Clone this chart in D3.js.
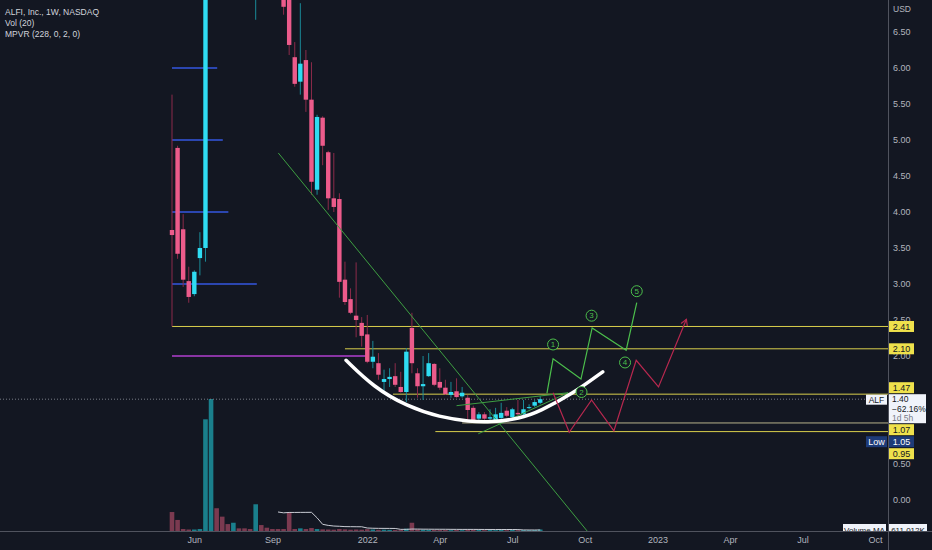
<!DOCTYPE html>
<html>
<head>
<meta charset="utf-8">
<script src="https://cdn.jsdelivr.net/npm/d3@7"></script>
<style>
  body { margin: 0; background: #131722; }
  svg { display: block; }
  text { font-family: "Liberation Sans", Arial, sans-serif; }
</style>
</head>
<body>
<script>
// weekly bars, first bar = week of 2021-05-03
const firstWeek = '2021-05-03';
const opens  = [3.75,4.89,3.76,3.04,2.86,3.36,3.50,10.8,14.5,12.0,10.3,9.1,9.9,9.0,8.4,7.6,8.9,8.3,7.9,7.6,
                7.4,7.0,6.15,5.81,6.11,5.56,4.31,5.31,4.83,4.19,4.18,3.06,2.79,2.56,2.46,2.30,1.92,1.90,1.64,1.68,
                1.72,1.57,1.50,2.39,1.76,1.58,1.72,1.89,1.64,1.56,1.46,1.51,1.44,1.42,1.28,1.13,1.19,1.13,1.11,1.14,
                1.24,1.15,1.21,1.19,1.28,1.31,1.35];
const highs  = [5.63,4.92,3.97,3.24,3.19,3.72,12.0,19.9,15.2,12.8,10.9,11.5,10.2,9.3,8.6,10.5,9.4,8.6,8.1,7.8,
                7.5,7.2,6.36,6.90,6.25,6.08,5.35,5.33,4.85,4.82,4.26,3.31,2.94,3.30,2.54,2.57,2.21,2.04,1.81,1.83,
                1.90,1.78,2.11,2.60,1.83,2.00,2.04,1.90,1.83,1.67,1.64,1.69,1.57,1.46,1.31,1.22,1.22,1.26,1.28,1.35,
                1.29,1.28,1.39,1.39,1.33,1.39,1.44];
const lows   = [2.41,3.35,2.96,2.74,2.83,3.12,3.31,9.6,11.0,9.8,8.6,8.7,8.6,8.0,7.3,6.67,7.9,7.6,7.3,7.1,
                6.74,6.18,5.74,5.63,5.39,4.24,4.24,4.65,4.03,4.00,2.81,2.71,2.58,2.26,2.13,1.90,1.83,1.67,1.49,1.57,
                1.57,1.49,1.36,1.76,1.42,1.39,1.71,1.58,1.53,1.46,1.42,1.42,1.42,1.08,1.07,1.10,1.11,1.08,1.08,1.12,
                1.15,1.14,1.18,1.18,1.26,1.29,1.33];
const closes = [3.68,3.42,3.06,2.82,3.17,3.50,10.8,14.6,12.1,10.3,9.1,9.9,9.0,8.4,7.6,8.9,8.3,7.9,7.6,7.4,
                6.85,6.32,5.78,6.06,5.56,4.42,5.32,4.92,4.19,4.07,3.03,2.75,2.60,2.50,2.28,1.92,1.99,1.74,1.68,1.71,
                1.60,1.50,2.06,1.90,1.58,1.61,1.90,1.60,1.56,1.47,1.50,1.43,1.49,1.25,1.10,1.19,1.13,1.15,1.19,1.21,
                1.17,1.26,1.19,1.26,1.29,1.36,1.40];
// volume, millions of shares
const volumes = [11.5,6.7,1.2,0.9,0.9,1.2,67.7,80.0,13.8,8.7,4.2,5.0,1.6,1.6,1.2,16.2,3.6,2.0,1.2,1.2,
                 1.2,11.5,1.2,1.6,1.2,1.8,1.2,1.0,0.9,0.8,1.2,1.0,0.8,0.9,0.8,1.1,0.9,0.7,0.8,0.7,
                 0.6,0.7,1.4,5.0,1.0,0.8,0.7,0.6,0.6,0.6,0.5,0.6,0.5,0.9,0.8,0.6,0.5,0.6,0.5,0.7,
                 0.5,0.6,0.5,0.6,0.5,0.6,0.9];
const volMaLength = 20;

// drawings, as [week index, price]
const yellowLevels = [2.41, 2.10, 1.47, 1.07, 0.95];
const yellowFrom   = [0, 31, 39.6, 52, 47.2];
const mpvrLevels = [6, 5, 4, 3];
const mpvrTo     = [8.1, 9.1, 10.1, 15.2];
const pivotLevel = 2.0, pivotTo = 34.8;
const trendLine  = [[19.05, 4.82], [74.4, -0.43]];
const wedgeUpper = [[51, 1.31], [71, 1.49]];
const wedgeLower = [[54.9, 0.92], [71, 1.49]];
const bowl = [[31.2,1.94],[36.1,1.57],[42.1,1.30],[48.0,1.15],[53.4,1.09],[57.0,1.08],[62.4,1.13],[65.9,1.23],[71.9,1.48],[77.2,1.78]];
const bullPath = [[67.2,1.48],[68.3,1.96],[73.3,1.68],[75.3,2.39],[81.4,2.08],[83.3,2.74]];
const bullLabels = [[68.3,2.16,'1'],[73.4,1.50,'2'],[75.2,2.56,'3'],[81.2,1.91,'4'],[83.3,2.90,'5']];
const bearPath = [[68.3,1.49],[71.2,0.94],[75.2,1.39],[79.2,0.96],[83.2,1.94],[87.2,1.57],[92.2,2.51]];

const priceTicks = [0,0.5,1,1.5,2,2.5,3,3.5,4,4.5,5,5.5,6,6.5];
const timeTicks  = ['2021-05-31','2021-09-06','2022-01-03','2022-04-04','2022-07-04','2022-10-03','2023-01-02','2023-04-03','2023-07-03','2023-10-02'];
const timeLabels = ['Jun','Sep','2022','Apr','Jul','Oct','2023','Apr','Jul','Oct'];

const lastPrice = 1.40, lastChange = '−62.16%', countdown = '1d 5h', lowPrice = 1.05;
const volMaText = '611.012K';

const W = 932, H = 550;
const paneR = 888, paneB = 531;
const upBody = '#2fdcf2', upWick = '#1a8a98', dnBody = '#ec5b8b', dnWick = '#8c2b4a';
const axisCol = '#b2b5be';

const svg = d3.select('body').append('svg').attr('width', W).attr('height', H);
svg.append('rect').attr('width', W).attr('height', H).attr('fill', '#131722');

const t0 = Date.parse(firstWeek + 'T00:00:00Z');
const wk = i => new Date(t0 + i * 7 * 864e5);

const x = d3.scaleUtc().domain([wk(0), wk(126)]).range([172, 875]);
const y = d3.scaleLinear().domain([0, 6.5]).range([500, 32]);
const yv = d3.scaleLinear().domain([0, 80]).range([paneB, 399]);

const defs = svg.append('defs');
defs.append('clipPath').attr('id', 'pane').append('rect').attr('width', paneR).attr('height', paneB);
defs.append('marker').attr('id', 'arr').attr('viewBox', '0 0 10 10').attr('refX', 8).attr('refY', 5)
  .attr('markerWidth', 7).attr('markerHeight', 7).attr('orient', 'auto-start-reverse')
  .append('path').attr('d', 'M1,1 L8,5 L1,9').attr('fill', 'none').attr('stroke', '#b8284f').attr('stroke-width', 1.4);

const pane = svg.append('g').attr('clip-path', 'url(#pane)');

const bars = opens.map((o, i) => ({
  t: wk(i), o, h: highs[i], l: lows[i], c: closes[i], v: volumes[i], up: closes[i] >= o
}));

// volume + MA
pane.append('g').selectAll('rect').data(bars).join('rect')
  .attr('x', d => x(d.t) - 2.3).attr('width', 4.6)
  .attr('y', d => yv(d.v)).attr('height', d => paneB - yv(d.v))
  .attr('fill', d => d.up ? '#1a7f8c' : '#7b3a50');

const volMa = bars.map((d, i) => i < volMaLength - 1 ? null
  : { t: d.t, v: d3.mean(volumes.slice(i - volMaLength + 1, i + 1)) }).filter(d => d);
pane.append('path').datum(volMa)
  .attr('d', d3.line().x(d => x(d.t)).y(d => yv(d.v)))
  .attr('fill', 'none').attr('stroke', '#c9ccd4').attr('stroke-width', 1);

// last price dotted line
pane.append('line').attr('x1', 0).attr('x2', paneR).attr('y1', y(lastPrice)).attr('y2', y(lastPrice))
  .attr('stroke', '#787b86').attr('stroke-dasharray', '1 2').attr('stroke-width', 1);

// horizontal rays
pane.append('g').selectAll('line').data(yellowLevels).join('line')
  .attr('x1', (d, i) => x(wk(yellowFrom[i]))).attr('x2', paneR)
  .attr('y1', d => y(d)).attr('y2', d => y(d))
  .attr('stroke', d => d === 1.07 ? '#b7b28a' : '#d9cf4c').attr('stroke-width', 1);

pane.append('g').selectAll('line').data(mpvrLevels).join('line')
  .attr('x1', x(wk(0))).attr('x2', (d, i) => x(wk(mpvrTo[i])))
  .attr('y1', d => y(d)).attr('y2', d => y(d))
  .attr('stroke', '#3557e0').attr('stroke-width', 1.4);

pane.append('line').attr('x1', x(wk(0))).attr('x2', x(wk(pivotTo)))
  .attr('y1', y(pivotLevel)).attr('y2', y(pivotLevel))
  .attr('stroke', '#b23fcf').attr('stroke-width', 1.4);

const pline = d3.line().x(d => x(wk(d[0]))).y(d => y(d[1]));

// candles
const cg = pane.append('g').selectAll('g').data(bars).join('g');
cg.append('line')
  .attr('x1', d => x(d.t)).attr('x2', d => x(d.t))
  .attr('y1', d => y(d.h)).attr('y2', d => y(d.l))
  .attr('stroke', d => d.up ? upWick : dnWick).attr('stroke-width', 1);
cg.append('rect')
  .attr('x', d => x(d.t) - 2.2).attr('width', 4.4)
  .attr('y', d => y(Math.max(d.o, d.c)))
  .attr('height', d => Math.max(1, Math.abs(y(d.o) - y(d.c))))
  .attr('fill', d => d.up ? upBody : dnBody);

// trend lines
[trendLine, wedgeUpper, wedgeLower].forEach(l => {
  pane.append('path').attr('d', pline(l)).attr('fill', 'none')
    .attr('stroke', '#3e9f42').attr('stroke-width', 1);
});

// bowl
pane.append('path').attr('d', pline.curve(d3.curveBasis)(bowl))
  .attr('fill', 'none').attr('stroke', '#ffffff').attr('stroke-width', 3.5).attr('stroke-linecap', 'round');
pline.curve(d3.curveLinear);

// projections
pane.append('path').attr('d', pline(bearPath)).attr('fill', 'none')
  .attr('stroke', '#b8284f').attr('stroke-width', 1.2).attr('marker-end', 'url(#arr)');
pane.append('path').attr('d', pline(bullPath)).attr('fill', 'none')
  .attr('stroke', '#4cbf4c').attr('stroke-width', 1.2);
const lab = pane.append('g').selectAll('g').data(bullLabels).join('g')
  .attr('transform', d => `translate(${x(wk(d[0]))},${y(d[1])})`);
lab.append('circle').attr('r', 5.5).attr('fill', '#131722').attr('stroke', '#4cbf4c').attr('stroke-width', 1);
lab.append('text').text(d => d[2]).attr('text-anchor', 'middle').attr('dy', '0.35em')
  .attr('font-size', 8).attr('fill', '#4cbf4c');

// volume MA labels (half hidden under the time axis)
const bottomClip = defs.append('clipPath').attr('id', 'bclip');
bottomClip.append('rect').attr('width', W).attr('height', paneB);
const vl = svg.append('g').attr('clip-path', 'url(#bclip)');
const vmaY = yv(volMa[volMa.length - 1].v);
vl.append('rect').attr('x', 843).attr('y', vmaY - 6).attr('width', 43).attr('height', 12).attr('fill', '#f0f3fa');
vl.append('text').attr('x', 864.5).attr('y', vmaY).attr('dy', '0.35em').attr('text-anchor', 'middle')
  .attr('font-size', 8).attr('fill', '#131722').text('Volume MA');
vl.append('rect').attr('x', 889).attr('y', vmaY - 6).attr('width', 38).attr('height', 12).attr('fill', '#f0f3fa');
vl.append('text').attr('x', 908).attr('y', vmaY).attr('dy', '0.35em').attr('text-anchor', 'middle')
  .attr('font-size', 8).attr('fill', '#131722').text(volMaText);

// separators
svg.append('line').attr('x1', paneR + 0.5).attr('x2', paneR + 0.5).attr('y1', 0).attr('y2', H)
  .attr('stroke', '#50535e');
svg.append('line').attr('x1', 0).attr('x2', W).attr('y1', paneB + 0.5).attr('y2', paneB + 0.5)
  .attr('stroke', '#50535e');

// price labels on the scale, pushed clear of the last-price box
const lastY = y(lastPrice);
const boxTop = lastY - 5, boxH = 29, lh = 11;
const tags = yellowLevels.map(p => ({ p, text: p.toFixed(2), low: false }))
  .concat([{ p: lowPrice, text: lowPrice.toFixed(2), low: true }]);
let lim = boxTop - 1;
tags.filter(d => d.p > lastPrice).sort((a, b) => a.p - b.p).forEach(d => {
  d.cy = Math.min(y(d.p), lim - lh / 2); lim = d.cy - lh / 2 - 1;
});
lim = boxTop + boxH + 1;
tags.filter(d => d.p < lastPrice).sort((a, b) => b.p - a.p).forEach(d => {
  d.cy = Math.max(y(d.p), lim + lh / 2); lim = d.cy + lh / 2 + 1;
});
const covered = v => tags.some(d => Math.abs(y(v) - d.cy) <= lh / 2)
  || (y(v) >= boxTop && y(v) <= boxTop + boxH);

// axes
const ax = svg.append('g').attr('transform', `translate(0,${paneB})`)
  .call(d3.axisBottom(x).tickValues(timeTicks.map(s => new Date(s + 'T00:00:00Z')))
    .tickFormat((d, i) => timeLabels[i]).tickSize(0).tickPadding(6));
ax.select('.domain').remove();
ax.selectAll('text').attr('fill', axisCol).attr('font-size', 9).attr('font-family', '"Liberation Sans", Arial, sans-serif');

const ay = svg.append('g').attr('transform', `translate(${paneR},0)`)
  .call(d3.axisRight(y).tickValues(priceTicks.filter(v => !covered(v)))
    .tickFormat(d3.format('.2f')).tickSize(0).tickPadding(5));
ay.select('.domain').remove();
ay.selectAll('text').attr('fill', axisCol).attr('font-size', 9).attr('font-family', '"Liberation Sans", Arial, sans-serif');
svg.append('text').attr('x', 893).attr('y', 9).attr('dy', '0.35em').attr('font-size', 8.5)
  .attr('fill', axisCol).text('USD');

const tg = svg.append('g').selectAll('g').data(tags).join('g')
  .attr('transform', d => `translate(0,${d.cy})`);
tg.append('rect').attr('x', 889).attr('y', -lh / 2).attr('width', 25).attr('height', lh)
  .attr('fill', d => d.low ? '#1d3b78' : '#efe14c');
tg.append('text').attr('x', 901.5).attr('dy', '0.35em').attr('text-anchor', 'middle').attr('font-size', 9)
  .attr('fill', d => d.low ? '#ffffff' : '#131722').text(d => d.text);
const lowTag = tags.find(d => d.low);
svg.append('rect').attr('x', 866).attr('y', lowTag.cy - lh / 2).attr('width', 21).attr('height', lh).attr('fill', '#1d3b78');
svg.append('text').attr('x', 876.5).attr('y', lowTag.cy).attr('dy', '0.35em').attr('text-anchor', 'middle')
  .attr('font-size', 9).attr('fill', '#ffffff').text('Low');

// last price box
svg.append('rect').attr('x', 889).attr('y', boxTop).attr('width', 37).attr('height', boxH).attr('fill', '#f0f3fa');
[[lastPrice.toFixed(2), '#131722'], [lastChange, '#131722'], [countdown, '#787b86']].forEach((r, i) => {
  svg.append('text').attr('x', 892).attr('y', boxTop + 5 + i * 9.5).attr('dy', '0.35em')
    .attr('font-size', 8.5).attr('fill', r[1]).text(r[0]);
});
svg.append('rect').attr('x', 866).attr('y', lastY - 4.5).attr('width', 21).attr('height', 10).attr('fill', '#f0f3fa');
svg.append('text').attr('x', 876.5).attr('y', lastY + 0.5).attr('dy', '0.35em').attr('text-anchor', 'middle')
  .attr('font-size', 8.5).attr('fill', '#131722').text('ALF');

// legend
['ALFI, Inc., 1W, NASDAQ', 'Vol (20)', 'MPVR (228, 0, 2, 0)'].forEach((s, i) => {
  svg.append('text').attr('x', 5).attr('y', 12 + i * 11).attr('dy', '0.35em')
    .attr('font-size', 8.5).attr('fill', '#d1d4dc').text(s);
});
</script>
</body>
</html>
